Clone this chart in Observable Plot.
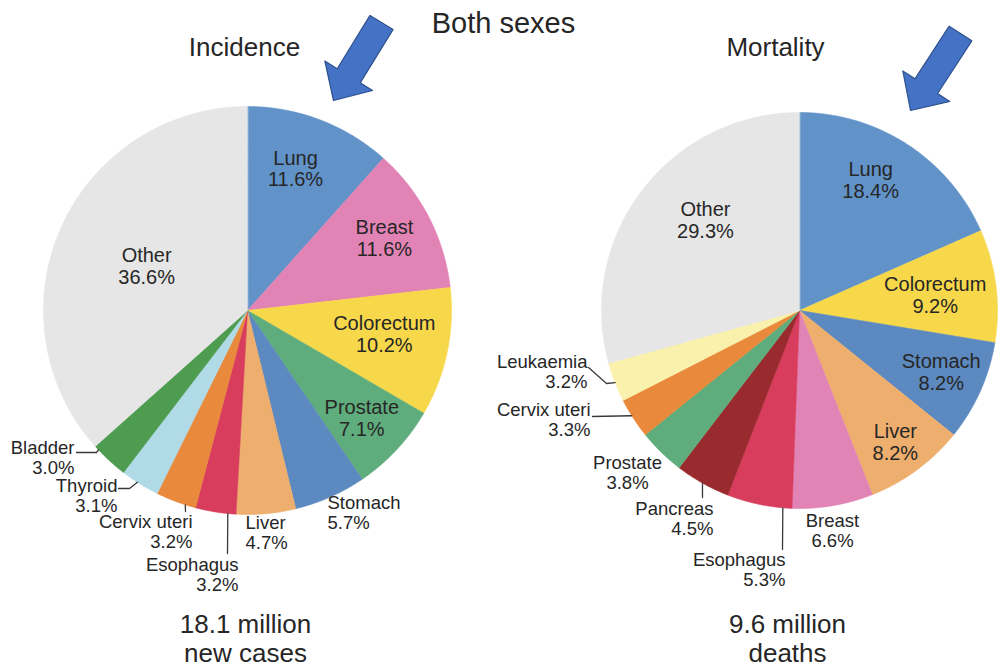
<!DOCTYPE html>
<html><head><meta charset="utf-8">
<script src="https://cdn.jsdelivr.net/npm/d3@7"></script>
<script src="https://cdn.jsdelivr.net/npm/@observablehq/plot@0.6"></script>
<style>html,body{margin:0;padding:0;background:#fff}svg{display:block}</style>
</head><body><div id="chart"></div>
<script>
// ---------- data ----------
const mainTitle = "Both sexes";
const panelTitles = ["Incidence", "Mortality"];
const panelCaptions = ["18.1 million\nnew cases", "9.6 million\ndeaths"];

const incidenceSites  = ["Lung","Breast","Colorectum","Prostate","Stomach","Liver","Esophagus","Cervix uteri","Thyroid","Bladder","Other"];
const incidenceShares = [11.6, 11.6, 10.2, 7.1, 5.7, 4.7, 3.2, 3.2, 3.1, 3.0, 36.6];

const mortalitySites  = ["Lung","Colorectum","Stomach","Liver","Breast","Esophagus","Pancreas","Prostate","Cervix uteri","Leukaemia","Other"];
const mortalityShares = [18.4, 9.2, 8.2, 8.2, 6.6, 5.3, 4.5, 3.8, 3.3, 3.2, 29.3];

// ---------- styles ----------
const siteColors = {
  "Lung": "#6193c9", "Breast": "#e183b5", "Colorectum": "#f8d84b", "Prostate": "#5fad7c",
  "Stomach": "#5c89bf", "Liver": "#eeae6d", "Esophagus": "#d83d5d", "Cervix uteri": "#e9893b",
  "Thyroid": "#b0dae5", "Bladder": "#4e9c50", "Other": "#e6e6e6", "Pancreas": "#992a2d",
  "Leukaemia": "#faf1ac"
};
const W = 999, H = 671;
const FONT = "'Liberation Sans', Arial, Helvetica, sans-serif";
const OUT_SIZE = 18.5, OUT_LH = 1.06;

// layout per panel (pixel-like units of the identity x/y scales)
const layout = [
  { cx: 247, cy: 310, r: 204, titleX: 244, captionX: 245,
    arrow: { tail: [381, 22], tip: [333, 100] },
    inside: { "Lung": [0.735, -2.2], "Breast": [0.76, -0.6], "Colorectum": [0.68, -2.3], "Prostate": [0.77, 0.3], "Other": [0.54, -0.4] },
    outside: {
      "Stomach":      { x: 327, y: 512, anchor: "start" },
      "Liver":        { x: 245, y: 532, anchor: "start" },
      "Esophagus":    { x: 238, y: 574, anchor: "end", leader: { frac: 0.2, pts: [[227, 553]] } },
      "Cervix uteri": { x: 192, y: 531, anchor: "end", leader: { frac: 0.26, pts: [[185, 511]] } },
      "Thyroid":      { x: 117, y: 495, anchor: "end", leader: { frac: 0.57, pts: [[129, 488], [118, 488]] } },
      "Bladder":      { x: 74,  y: 457, anchor: "end", leader: { frac: 0.88, pts: [[96, 452], [76, 452]] } }
    } },
  { cx: 799, cy: 310, r: 198, titleX: 775, captionX: 787,
    arrow: { tail: [960, 33], tip: [910, 110] },
    inside: { "Lung": [0.75, -4.5], "Colorectum": [0.69, 0.5], "Stomach": [0.78, -0.7], "Liver": [0.82, 0.2], "Other": [0.66, 6.7] },
    outside: {
      "Breast":       { x: 832, y: 530, anchor: "middle" },
      "Esophagus":    { x: 785, y: 569, anchor: "end", leader: { frac: 0.14, pts: [[782, 549]] } },
      "Pancreas":     { x: 713, y: 518, anchor: "end", leader: { frac: 0.5, pts: [[702, 497]] } },
      "Prostate":     { x: 627, y: 472, anchor: "middle" },
      "Cervix uteri": { x: 590, y: 419, anchor: "end", leader: { frac: 0.57, pts: [[592, 416]] } },
      "Leukaemia":    { x: 587, y: 371, anchor: "end", leader: { frac: 0.49, pts: [[606, 383], [588, 367]] } }
    } }
];

// ---------- build tables ----------
const rad = a => a * Math.PI / 180;
function polar(cx, cy, r, deg) { return [cx + r * Math.sin(rad(deg)), cy - r * Math.cos(rad(deg))]; }

function buildSlices(sites, shares, panel) {
  const total = d3.sum(shares);
  let acc = 0;
  return sites.map((site, i) => {
    const a0 = acc / total * 360; acc += shares[i]; const a1 = acc / total * 360;
    return { panel, site, share: shares[i], a0, a1, mid: (a0 + a1) / 2, color: siteColors[site] };
  });
}
const pies = [buildSlices(incidenceSites, incidenceShares, 0), buildSlices(mortalitySites, mortalityShares, 1)];

const slicePts = [], labels = [], leaders = [];
pies.forEach((slices, p) => {
  const L = layout[p];
  slices.forEach(s => {
    const key = p + ":" + s.site;
    slicePts.push({ key, x: L.cx, y: L.cy, color: s.color });
    const n = Math.max(2, Math.ceil((s.a1 - s.a0) / 0.5));
    for (let k = 0; k <= n; k++) {
      const [x, y] = polar(L.cx, L.cy, L.r, s.a0 + (s.a1 - s.a0) * k / n);
      slicePts.push({ key, x, y, color: s.color });
    }
    const text = `${s.site}\n${s.share.toFixed(1)}%`;
    if (L.inside[s.site]) {
      const [kr, off] = L.inside[s.site];
      const [x, y] = polar(L.cx, L.cy, L.r * kr, s.mid + off);
      labels.push({ x, y, text, anchor: "middle", inner: true });
    } else if (L.outside[s.site]) {
      const o = L.outside[s.site];
      labels.push({ x: o.x, y: o.y, text, anchor: o.anchor, inner: false });
      if (o.leader) {
        const [ex, ey] = polar(L.cx, L.cy, L.r, s.a0 + (s.a1 - s.a0) * o.leader.frac);
        leaders.push({ key, x: ex, y: ey });
        o.leader.pts.forEach(([x, y]) => leaders.push({ key, x, y }));
      }
    }
  });
});

// block arrows
function arrowPolygon(key, tail, tip, shaftW, headW, headL) {
  const dx = tip[0] - tail[0], dy = tip[1] - tail[1], len = Math.hypot(dx, dy);
  const ux = dx / len, uy = dy / len, nx = -uy, ny = ux;
  const bx = tip[0] - ux * headL, by = tip[1] - uy * headL;
  const pts = [
    [tail[0] + nx * shaftW / 2, tail[1] + ny * shaftW / 2],
    [bx + nx * shaftW / 2, by + ny * shaftW / 2],
    [bx + nx * headW / 2, by + ny * headW / 2],
    tip,
    [bx - nx * headW / 2, by - ny * headW / 2],
    [bx - nx * shaftW / 2, by - ny * shaftW / 2],
    [tail[0] - nx * shaftW / 2, tail[1] - ny * shaftW / 2]
  ];
  return pts.map(([x, y]) => ({ key, x, y }));
}
const arrows = layout.flatMap((L, i) => arrowPolygon("arrow" + i, L.arrow.tail, L.arrow.tip, 27, 56, 29));

const titles = layout.map((L, i) => ({ x: L.titleX, y: 47, text: panelTitles[i] }));
const captions = layout.map((L, i) => ({ x: L.captionX, y: 638, text: panelCaptions[i] }));

const textCommon = { x: "x", y: "y", text: "text", lineAnchor: "middle", fill: "#262626", fontFamily: FONT };

const chart = Plot.plot({
  width: W, height: H, margin: 0,
  x: { domain: [0, W], range: [0, W], axis: null },
  y: { domain: [0, H], range: [0, H], axis: null },
  color: { type: "identity" },
  style: { fontFamily: FONT, background: "#fff" },
  marks: [
    Plot.line(slicePts, { x: "x", y: "y", z: "key", fill: "color", stroke: "color", strokeWidth: 0.6, curve: "linear-closed" }),
    Plot.line(leaders, { x: "x", y: "y", z: "key", stroke: "#3a3a3a", strokeWidth: 1.3 }),
    Plot.line(arrows, { x: "x", y: "y", z: "key", fill: "#4472c4", stroke: "#2f528f", strokeWidth: 1.2, curve: "linear-closed" }),
    Plot.text(labels.filter(d => d.inner), { ...textCommon, textAnchor: "middle", fontSize: 20, lineHeight: 1.1 }),
    Plot.text(labels.filter(d => !d.inner && d.anchor === "middle"), { ...textCommon, textAnchor: "middle", fontSize: OUT_SIZE, lineHeight: OUT_LH }),
    Plot.text(labels.filter(d => !d.inner && d.anchor === "start"), { ...textCommon, textAnchor: "start", fontSize: OUT_SIZE, lineHeight: OUT_LH }),
    Plot.text(labels.filter(d => !d.inner && d.anchor === "end"), { ...textCommon, textAnchor: "end", fontSize: OUT_SIZE, lineHeight: OUT_LH }),
    Plot.text([{ x: 503, y: 23, text: mainTitle }], { ...textCommon, textAnchor: "middle", fontSize: 29 }),
    Plot.text(titles, { ...textCommon, textAnchor: "middle", fontSize: 26 }),
    Plot.text(captions, { ...textCommon, textAnchor: "middle", fontSize: 26, lineHeight: 1.12 })
  ]
});
document.getElementById("chart").appendChild(chart);
</script>
</body></html>
